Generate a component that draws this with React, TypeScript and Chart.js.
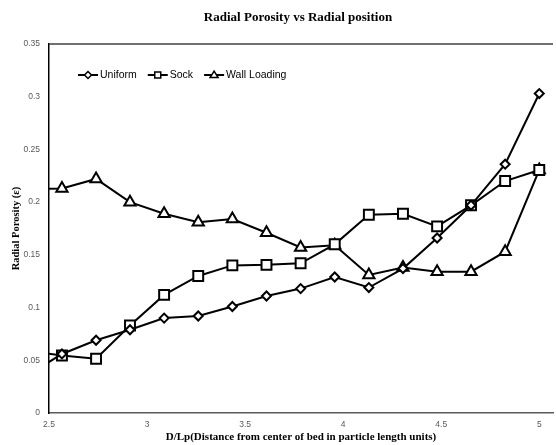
import React, { useEffect, useRef } from 'react';
import { Chart, registerables } from 'chart.js';

Chart.register(...registerables);

const TITLE = 'Radial Porosity vs Radial position';
const X_TITLE = 'D/Lp(Distance from center of bed in particle length units)';
const Y_TITLE = 'Radial Porosity (ε)';

const seriesNames = ['Uniform', 'Sock', 'Wall Loading'];
const positions = [2.392, 2.566, 2.74, 2.913, 3.087, 3.261, 3.435, 3.609, 3.783, 3.957, 4.131, 4.305, 4.479, 4.652, 4.826, 5.0];
const uniform = [0.036, 0.056, 0.069, 0.079, 0.09, 0.092, 0.101, 0.111, 0.118, 0.129, 0.119, 0.137, 0.166, 0.197, 0.236, 0.303];
const sock = [0.059, 0.0545, 0.0515, 0.083, 0.112, 0.13, 0.14, 0.1405, 0.142, 0.16, 0.188, 0.189, 0.177, 0.197, 0.22, 0.2305];
const wallLoading = [0.212, 0.213, 0.222, 0.2, 0.189, 0.181, 0.184, 0.171, 0.157, 0.159, 0.131, 0.138, 0.134, 0.134, 0.153, 0.2305];
const xTicks = [2.5, 3, 3.5, 4, 4.5, 5];
const yTicks = [0, 0.05, 0.1, 0.15, 0.2, 0.25, 0.3, 0.35];

const SANS = '"Liberation Sans", Arial, sans-serif';
const SERIF = '"Liberation Serif", "Times New Roman", serif';

function drawMarker(ctx: CanvasRenderingContext2D, style: string, x: number, y: number, r: number) {
  ctx.beginPath();
  if (style === 'rectRot') {
    ctx.moveTo(x, y - r);
    ctx.lineTo(x + r, y);
    ctx.lineTo(x, y + r);
    ctx.lineTo(x - r, y);
    ctx.closePath();
  } else if (style === 'rect') {
    ctx.rect(x - r, y - r, 2 * r, 2 * r);
  } else {
    const h = r * 1.6;
    ctx.moveTo(x, y - h * 0.6);
    ctx.lineTo(x + r, y + h * 0.4);
    ctx.lineTo(x - r, y + h * 0.4);
    ctx.closePath();
  }
  ctx.fillStyle = '#fff';
  ctx.fill();
  ctx.lineWidth = 1.5;
  ctx.strokeStyle = '#000';
  ctx.stroke();
}

const legendSizes: Record<string, number> = { rectRot: 3.5, rect: 3, triangle: 4 };

const decorPlugin = {
  id: 'decor',
  afterDraw(chart: any) {
    const { ctx, chartArea } = chart;
    ctx.save();
    // top border of plot area
    ctx.strokeStyle = '#404040';
    ctx.lineWidth = 1.5;
    ctx.beginPath();
    ctx.moveTo(chartArea.left, chartArea.top);
    ctx.lineTo(chartArea.right, chartArea.top);
    ctx.stroke();

    // title
    ctx.fillStyle = '#000';
    ctx.font = `bold 13px ${SERIF}`;
    ctx.textAlign = 'center';
    ctx.textBaseline = 'middle';
    ctx.fillText(TITLE, (chartArea.left + chartArea.right) / 2 - 3, 18);

    // legend inside plot
    ctx.font = `10.5px ${SANS}`;
    ctx.textAlign = 'left';
    let x = chartArea.left + 29;
    const y = chartArea.top + 31;
    chart.data.datasets.forEach((ds: any) => {
      ctx.strokeStyle = '#000';
      ctx.lineWidth = 2;
      ctx.beginPath();
      ctx.moveTo(x, y);
      ctx.lineTo(x + 20, y);
      ctx.stroke();
      drawMarker(ctx, ds.pointStyle, x + 10, y, legendSizes[ds.pointStyle] || 3.5);
      ctx.fillStyle = '#000';
      ctx.fillText(ds.label, x + 22, y);
      x += 22 + ctx.measureText(ds.label).width + 11;
    });
    ctx.restore();
  },
};

export default function App() {
  const ref = useRef<HTMLCanvasElement | null>(null);

  useEffect(() => {
    document.body.style.margin = '0';
    const canvas = ref.current;
    if (!canvas) return;
    const mk = (vals: number[]) => positions.map((p, i) => ({ x: p, y: vals[i] }));
    const styles = ['rectRot', 'rect', 'triangle'];
    const radii = [4.5, 7, 6.5];
    const series = [uniform, sock, wallLoading];
    const chart = new Chart(canvas, {
      type: 'line',
      data: {
        datasets: series.map((vals, i) => ({
          label: seriesNames[i],
          data: mk(vals),
          borderColor: '#000',
          borderWidth: 2,
          tension: 0,
          pointStyle: styles[i],
          pointRadius: radii[i],
          pointBackgroundColor: '#fff',
          pointBorderColor: '#000',
          pointBorderWidth: 2,
          clip: 0,
        })) as any,
      },
      options: {
        responsive: false,
        animation: false,
        events: [],
        layout: { autoPadding: false, padding: { top: 44, right: 3, left: 0, bottom: 0 } },
        plugins: {
          legend: { display: false },
          title: { display: false },
          tooltip: { enabled: false },
        },
        scales: {
          x: {
            type: 'linear',
            min: 2.5,
            max: 5.07,
            afterFit: (s: any) => { s.height = 32; s.paddingRight = 0; s.paddingLeft = 0; },
            afterBuildTicks: (s: any) => { s.ticks = xTicks.map((v) => ({ value: v })); },
            grid: { display: false, drawTicks: false },
            border: { display: true, color: '#5a5a5a', width: 1.5 },
            ticks: {
              autoSkip: false,
              maxRotation: 0,
              padding: 7,
              color: '#595959',
              font: { family: SANS, size: 8.5 },
              callback: (v: any) => String(v),
            },
            title: {
              display: true,
              text: X_TITLE,
              color: '#000',
              font: { family: SERIF, size: 11, weight: 'bold' },
              padding: { top: 0, bottom: 1 },
            },
          },
          y: {
            type: 'linear',
            min: 0,
            max: 0.35,
            afterFit: (s: any) => { s.width = 49; s.paddingTop = 0; s.paddingBottom = 0; },
            afterBuildTicks: (s: any) => { s.ticks = yTicks.map((v) => ({ value: v })); },
            grid: { display: false, drawTicks: false },
            border: { display: true, color: '#000', width: 1.5 },
            ticks: {
              autoSkip: false,
              padding: 9,
              color: '#595959',
              font: { family: SANS, size: 8.5 },
              callback: (v: any) => String(v),
            },
            title: {
              display: true,
              text: Y_TITLE,
              color: '#000',
              font: { family: SERIF, size: 10.5, weight: 'bold' },
              padding: { top: 10, bottom: 0 },
            },
          },
        },
      },
      plugins: [decorPlugin],
    });
    return () => chart.destroy();
  }, []);

  return (
    <div style={{ width: 556, height: 445, position: 'relative', background: '#fff' }}>
      <canvas ref={ref} width={556} height={445} style={{ display: 'block' }} />
    </div>
  );
}
